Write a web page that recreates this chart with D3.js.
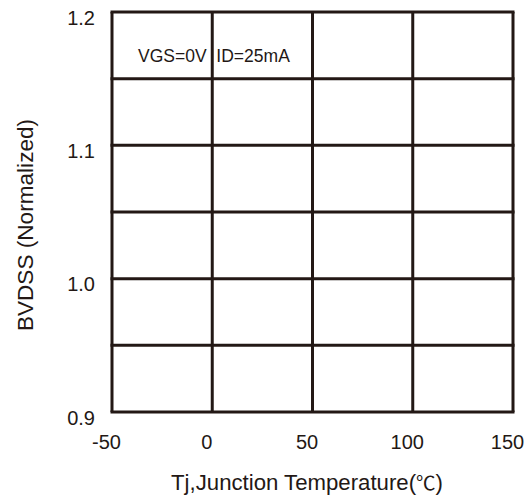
<!DOCTYPE html>
<html>
<head>
<meta charset="utf-8">
<script src="https://cdn.jsdelivr.net/npm/d3@7"></script>
<style>
  body { margin: 0; background: #fff; }
  text { font-family: 'Liberation Sans', Arial, sans-serif; fill: #231815; }
</style>
</head>
<body>
<script>
// axis ranges and ticks
const xDomain = [-50, 150];
const yDomain = [0.9, 1.2];
const xTicks = [-50, 0, 50, 100, 150];
const yLabelTicks = [0.9, 1.0, 1.1, 1.2];
const yGridTicks = [0.9, 0.95, 1.0, 1.05, 1.1, 1.15, 1.2];
const condition = 'VGS=0V  ID=25mA';
const xTitle = 'Tj,Junction Temperature(';
const xUnit = '\u2103';
const yTitle = 'BVDSS (Normalized)';

const width = 529, height = 499;
const margin = {top: 12, right: 16, bottom: 87, left: 112};
const ink = '#231815';

const svg = d3.select('body')
  .append('svg')
  .attr('width', width)
  .attr('height', height);

const x = d3.scaleLinear()
  .domain(xDomain)
  .range([margin.left, width - margin.right]);

const y = d3.scaleLinear()
  .domain(yDomain)
  .range([height - margin.bottom, margin.top]);

// condition text sits under the grid
svg.append('text')
  .attr('x', x(-37))
  .attr('y', y(1.1625))
  .style('font-size', '17.5px')
  .style('white-space', 'pre')
  .attr('xml:space', 'preserve')
  .text(condition);

// grid
svg.append('g')
  .selectAll('line')
  .data(xTicks)
  .join('line')
  .attr('x1', d => x(d))
  .attr('x2', d => x(d))
  .attr('y1', y(yDomain[0]))
  .attr('y2', y(yDomain[1]))
  .attr('stroke', ink)
  .attr('stroke-width', 3);

svg.append('g')
  .selectAll('line')
  .data(yGridTicks)
  .join('line')
  .attr('x1', x(xDomain[0]) - 1.5)
  .attr('x2', x(xDomain[1]) + 1.5)
  .attr('y1', d => y(d))
  .attr('y2', d => y(d))
  .attr('stroke', ink)
  .attr('stroke-width', 3);

// x axis labels (plain hyphen for the minus)
const xAxis = svg.append('g')
  .attr('transform', `translate(0, ${height - margin.bottom})`)
  .call(d3.axisBottom(x).tickValues(xTicks).tickSize(0).tickPadding(23).tickFormat(d => String(d)));
xAxis.select('.domain').remove();
xAxis.selectAll('text')
  .style('font-size', '20px')
  .style('font-family', "'Liberation Sans', Arial, sans-serif")
  .attr('fill', ink)
  .attr('dx', -6);

// y axis labels
const yAxis = svg.append('g')
  .attr('transform', `translate(${margin.left}, 0)`)
  .call(d3.axisLeft(y).tickValues(yLabelTicks).tickSize(0).tickPadding(17).tickFormat(d3.format('.1f')));
yAxis.select('.domain').remove();
yAxis.selectAll('text')
  .style('font-size', '20px')
  .style('font-family', "'Liberation Sans', Arial, sans-serif")
  .attr('fill', ink)
  .attr('dy', '0.6em');

// axis titles
const xt = svg.append('text')
  .attr('x', 307)
  .attr('y', 490)
  .attr('text-anchor', 'middle')
  .style('font-size', '22.2px');
xt.append('tspan').text(xTitle);
xt.append('tspan')
  .style('font-family', "'Noto Sans CJK SC', sans-serif")
  .style('font-size', '19.5px')
  .text(xUnit);
xt.append('tspan').text(')');

svg.append('text')
  .attr('transform', 'translate(33, 225) rotate(-90)')
  .attr('text-anchor', 'middle')
  .style('font-size', '22.6px')
  .text(yTitle);
</script>
</body>
</html>
